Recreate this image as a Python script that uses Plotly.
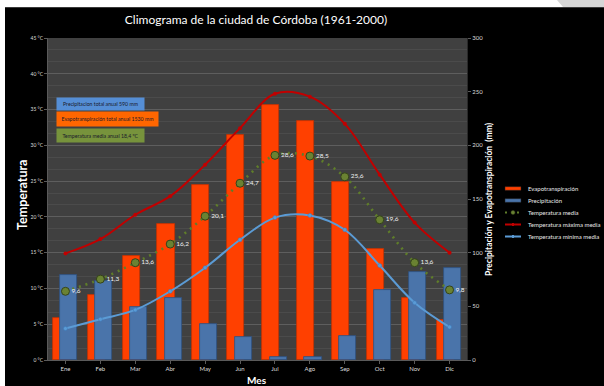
import plotly.graph_objects as go

# Monthly climate data for Córdoba (1961-2000)
meses = ["Ene", "Feb", "Mar", "Abr", "May", "Jun", "Jul", "Ago", "Sep", "Oct", "Nov", "Dic"]
evapotranspiracion = [39, 61, 97, 127, 163, 210, 238, 223, 166, 103, 58, 37]   # mm
precipitacion = [79, 74, 49, 58, 34, 21, 3, 3, 22, 65, 82, 86]                 # mm
temp_media = [9.6, 11.3, 13.6, 16.2, 20.1, 24.7, 28.6, 28.5, 25.6, 19.6, 13.6, 9.8]
temp_maxima = [14.9, 16.9, 20.3, 22.9, 27.3, 32.4, 37.2, 36.8, 33.0, 25.9, 19.2, 15.0]
temp_minima = [4.4, 5.7, 7.0, 9.6, 12.9, 16.8, 19.9, 20.2, 18.2, 13.2, 8.0, 4.6]

resumen = [
    ("Precipitacion total anual 590 mm", "#558ed5", 87, 12),
    ("Evapotranspiración total anual 1530 mm", "#ff6600", 101, 14),
    ("Temperatura media anual 18,4 ºC", "#77933c", 87, 13),
]

W, H = 604, 386
L, R, T, B = 48, 137, 38, 26
PW, PH = W - L - R, H - T - B
FONT = "Lato"

C_EVAP, C_PREC = "#ff4000", "#4a74aa"
C_MEDIA, C_MAX, C_MIN = "#6a8232", "#c00000", "#5b9bd5"


def px(x):
    return (x - L) / PW


def py(y):
    return (H - B - y) / PH


x = list(range(len(meses)))
fig = go.Figure()

fig.add_trace(go.Bar(
    x=x, y=evapotranspiracion, name="Evapotranspiración",
    marker=dict(color=C_EVAP, line=dict(color="#c43100", width=0.8)),
    width=0.49, offset=-0.365, yaxis="y",
))
fig.add_trace(go.Bar(
    x=x, y=precipitacion, name="Precipitación",
    marker=dict(color=C_PREC, line=dict(color="#2f5080", width=0.8)),
    width=0.49, offset=-0.155, yaxis="y",
))
fig.add_trace(go.Scatter(
    x=x, y=temp_media, name="Temperatura media", yaxis="y2",
    mode="lines+markers+text", line=dict(color="#5f7d2a", width=2.6, dash="2px,5px", shape="spline"),
    marker=dict(size=8, color=C_MEDIA, line=dict(color="#34431a", width=1)),
    text=[f"{v:.1f}".replace(".", ",") for v in temp_media],
    textposition="middle right", textfont=dict(color="#f2f2f2", size=6.5, family=FONT),
))
fig.add_trace(go.Scatter(
    x=x, y=temp_maxima, name="Temperatura máxima media", yaxis="y2",
    mode="lines+markers", line=dict(color=C_MAX, width=2, shape="spline"),
    marker=dict(size=4, color=C_MAX),
))
fig.add_trace(go.Scatter(
    x=x, y=temp_minima, name="Temperatura mínima media", yaxis="y2",
    mode="lines+markers", line=dict(color=C_MIN, width=2, shape="spline"),
    marker=dict(size=4, color=C_MIN, line=dict(color="#3d78b8", width=0.5)),
))

annotations = []
shapes = []

# summary boxes
y_top = [96.5, 111, 127.5]
for (txt, col, w, h), yt in zip(resumen, y_top):
    annotations.append(dict(
        text=txt, xref="paper", yref="paper", x=px(56), y=py(yt),
        xanchor="left", yanchor="top", showarrow=False, width=w, height=h,
        bgcolor=col, borderpad=0, font=dict(size=5.2, color="#1a1a2a", family=FONT),
        align="center", valign="middle",
    ))

# axis titles
annotations.append(dict(text="<b>Temperatura</b>", xref="paper", yref="paper",
                        x=px(22), y=py(195), textangle=-90, showarrow=False,
                        xanchor="center", yanchor="middle",
                        font=dict(size=12.5, color="white", family=FONT)))
annotations.append(dict(text="<b>Precipitación y Evapotranspiración  (mm)</b>", xref="paper", yref="paper",
                        x=px(489), y=py(199), textangle=-90, showarrow=False,
                        xanchor="center", yanchor="middle",
                        font=dict(size=8.5, color="white", family=FONT)))
annotations.append(dict(text="<b>Mes</b>", xref="paper", yref="paper",
                        x=px(257), y=py(380), showarrow=False,
                        xanchor="center", yanchor="middle",
                        font=dict(size=10, color="white", family=FONT)))

# compact legend on the right
leg_x0, leg_x1, leg_tx = 505, 521, 526
leg_rows = [188.5, 200.5, 212.5, 224.5, 236.5]
leg_names = [tr.name for tr in fig.data]
for i, (name, yr) in enumerate(zip(leg_names, leg_rows)):
    annotations.append(dict(text=name, xref="paper", yref="paper", x=px(leg_tx), y=py(yr),
                            xanchor="left", yanchor="middle", showarrow=False,
                            font=dict(size=6, color="#e8e8e8", family=FONT)))
    if i < 2:
        col = [C_EVAP, C_PREC][i]
        shapes.append(dict(type="rect", xref="paper", yref="paper",
                           x0=px(leg_x0), x1=px(leg_x1), y0=py(yr + 1.8), y1=py(yr - 1.8),
                           fillcolor=col, line=dict(color="#222", width=0.5)))
    elif i == 2:
        shapes.append(dict(type="line", xref="paper", yref="paper",
                           x0=px(leg_x0), x1=px(leg_x1), y0=py(yr), y1=py(yr),
                           line=dict(color="#5f7d2a", width=2, dash="2px,4px")))
        shapes.append(dict(type="circle", xref="paper", yref="paper",
                           x0=px(511), x1=px(515), y0=py(yr + 2), y1=py(yr - 2),
                           fillcolor=C_MEDIA, line=dict(color="#34431a", width=0.5)))
    else:
        col = [C_MAX, C_MIN][i - 3]
        shapes.append(dict(type="line", xref="paper", yref="paper",
                           x0=px(leg_x0), x1=px(leg_x1), y0=py(yr), y1=py(yr),
                           line=dict(color=col, width=2)))
        shapes.append(dict(type="rect", xref="paper", yref="paper",
                           x0=px(512), x1=px(514), y0=py(yr + 1.5), y1=py(yr - 1.5),
                           fillcolor=col, line=dict(width=0)))

# white page edges around the black frame
shapes += [
    dict(type="rect", xref="paper", yref="paper", x0=px(0), x1=px(W), y0=py(7), y1=py(0),
         fillcolor="white", line=dict(width=0), layer="below"),
    dict(type="rect", xref="paper", yref="paper", x0=px(0), x1=px(5), y0=py(H), y1=py(0),
         fillcolor="white", line=dict(width=0), layer="below"),
    dict(type="path", xref="paper", yref="paper",
         path=f"M {px(557)} {py(0)} L {px(W)} {py(0)} L {px(W)} {py(7)} L {px(563)} {py(7)} Z",
         fillcolor="#d6d6d6", line=dict(width=0), layer="below"),
    dict(type="line", xref="paper", yref="paper", x0=px(5), x1=px(W), y0=py(7.5), y1=py(7.5),
         line=dict(color="#3a3a3a", width=1), layer="below"),
]

fig.update_layout(
    width=W, height=H, margin=dict(l=L, r=R, t=T, b=B, autoexpand=False),
    paper_bgcolor="black", plot_bgcolor="#404040",
    font=dict(family=FONT, color="#e0e0e0"),
    title=dict(text="Climograma de la ciudad de Córdoba (1961-2000)", x=256 / W, xanchor="center",
               y=1 - 20 / H, yanchor="middle", font=dict(size=12, color="white", family=FONT)),
    barmode="overlay", bargap=0,
    showlegend=False,
    xaxis=dict(range=[-0.5, 11.5], tickmode="array", tickvals=x, ticktext=meses,
               showgrid=False, zeroline=False, showline=True, linecolor="#5a5a5a",
               ticks="outside", ticklen=3, tickcolor="#5a5a5a",
               tickfont=dict(size=6, color="#dcdcdc")),
    yaxis=dict(side="right", range=[0, 300], dtick=50, showgrid=False, zeroline=False,
               showline=True, linecolor="#2a2a2a", ticks="outside", ticklen=3, tickcolor="#5a5a5a",
               tickfont=dict(size=6, color="#dcdcdc")),
    yaxis2=dict(side="left", overlaying="y", range=[0, 45], dtick=5, ticksuffix=" °C",
                showgrid=True, gridcolor="#5e5e5e", gridwidth=1, zeroline=False,
                showline=True, linecolor="#5a5a5a", ticks="outside", ticklen=3, tickcolor="#5a5a5a",
                minor=dict(dtick=5 / 3, showgrid=True, gridcolor="#4b4b4b", gridwidth=1),
                tickfont=dict(size=5, color="#dcdcdc")),
    annotations=annotations,
    shapes=shapes,
)

fig.write_html("out.html")
